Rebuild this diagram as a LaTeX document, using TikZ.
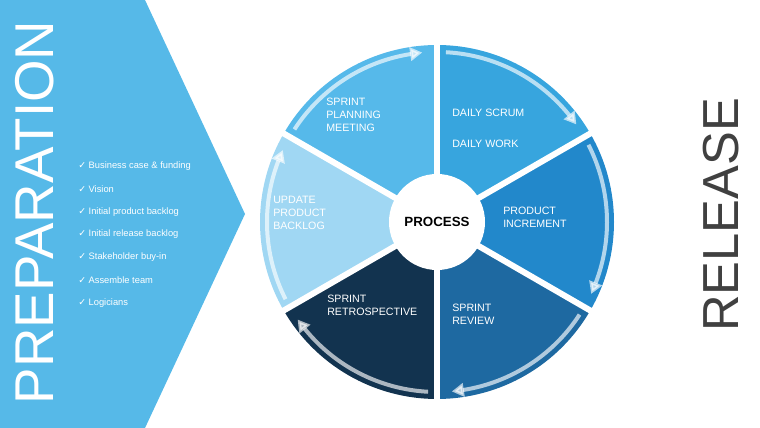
\documentclass[tikz,border=0pt]{standalone}
\usepackage{fontspec}
\setmainfont{Liberation Sans}
\newfontfamily\symfont{DejaVu Sans}
\usetikzlibrary{arrows.meta,bending}

\definecolor{panelblue}{HTML}{56B9E8}
\definecolor{segplan}{HTML}{56B9EA}
\definecolor{segdaily}{HTML}{37A5DE}
\definecolor{seginc}{HTML}{2288CB}
\definecolor{segrev}{HTML}{1E69A1}
\definecolor{segretro}{HTML}{12334F}
\definecolor{segupd}{HTML}{A0D7F3}
\definecolor{releasegray}{HTML}{404040}

\begin{document}
\begin{tikzpicture}[
  x=0.75pt, y=0.75pt,
  seglabel/.style={text=white, align=left, anchor=west, inner sep=0pt, font=\fontsize{8}{9.75}\selectfont},
  checkitem/.style={text=white, anchor=west, inner sep=0pt, font=\fontsize{7}{8}\selectfont},
  gap/.style={white, line width=4.5pt},
  rimarrow/.style={white, opacity=0.65, line width=3pt, -{Triangle[width=10pt,length=9pt,bend]}},
  bigword/.style={rotate=90, inner sep=0pt}
]
\useasboundingbox (0,0) rectangle (760,428);

% Left panel
\fill[panelblue] (0,0) -- (0,428) -- (145,428) -- (245,214) -- (145,0) -- cycle;
\node[bigword, text=white, font=\fontsize{41}{41}\selectfont] (prep) at (35,215.5) {PREPARATION};
\foreach \item [count=\i] in {Business case \& funding, Vision, Initial product backlog,
  Initial release backlog, Stakeholder buy-in, Assemble team, Logicians}
  \node[checkitem] (chk\i) at (78,{262-22.8*(\i-1)}) {{\symfont ✓}~\item};

% Process wheel
\coordinate (C) at (437,206);
\foreach \a/\col in {90/segplan, 30/segdaily, -30/seginc, -90/segrev, -150/segretro, 150/segupd}
  \fill[\col] (C) -- ([shift={(\a:177)}]C) arc[start angle=\a, end angle=\a+60, radius=177] -- cycle;
\foreach \a in {90, 30, -30, -90, -150, 150}
  \draw[rimarrow] ([shift={(\a+57:170)}]C) arc[start angle=\a+57, end angle=\a+5, radius=170];
\foreach \a in {30, 90, ..., 330}
  \draw[gap] (C) -- ([shift={(\a:183)}]C);
\node[circle, fill=white, minimum size=72pt, inner sep=0pt, font=\bfseries\fontsize{10}{12}\selectfont] (process) at (C) {PROCESS};

% Segment labels
\node[seglabel] (plan)  at (326,313.5) {SPRINT\\PLANNING\\MEETING};
\node[seglabel] (scrum) at (452,315)   {DAILY SCRUM};
\node[seglabel] (work)  at (452,284)   {DAILY WORK};
\node[seglabel] (upd)   at (273,215)   {UPDATE\\PRODUCT\\BACKLOG};
\node[seglabel] (inc)   at (503,210.5) {PRODUCT\\INCREMENT};
\node[seglabel] (retro) at (327,122.5) {SPRINT\\RETROSPECTIVE};
\node[seglabel] (rev)   at (452,113.5) {SPRINT\\REVIEW};

% Right side
\node[bigword, text=releasegray, font=\fontsize{38}{38}\selectfont] (release) at (721.5,213) {RELEASE};

\end{tikzpicture}
\end{document}
